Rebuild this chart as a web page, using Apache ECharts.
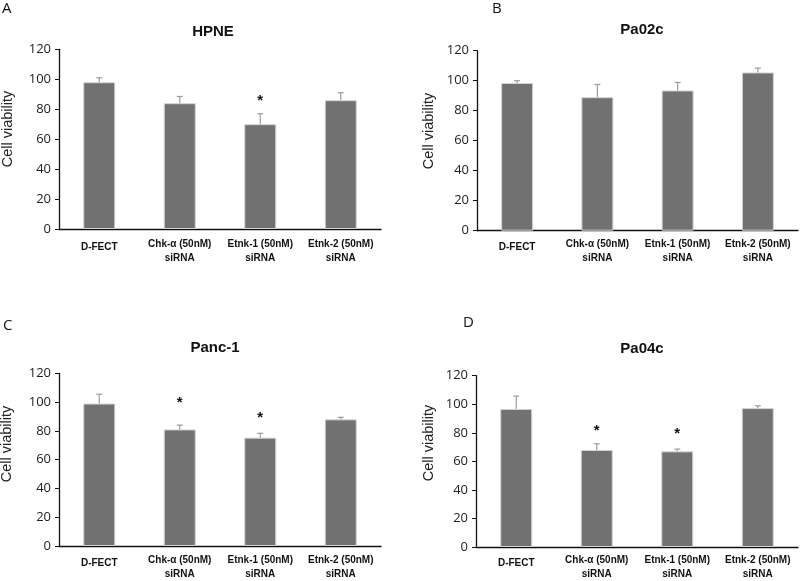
<!DOCTYPE html>
<html>
<head>
<meta charset="utf-8">
<script src="https://cdn.jsdelivr.net/npm/echarts@6/dist/echarts.min.js"></script>
<style>html,body{margin:0;padding:0;background:#fff;}#c{width:800px;height:581px;}</style>
</head>
<body>
<div id="c"></div>
<script>
var categories = ['D-FECT', 'Chk-α (50nM)\nsiRNA', 'Etnk-1 (50nM)\nsiRNA', 'Etnk-2 (50nM)\nsiRNA'];
var yTicks = [0, 20, 40, 60, 80, 100, 120];
var panelTitles = ['HPNE', 'Pa02c', 'Panc-1', 'Pa04c'];
var panelLetters = ['A', 'B', 'C', 'D'];

var hpneMean = [98, 84, 70, 86];
var hpneErr = [3, 4.5, 7, 5];
var hpneStar = [null, null, 88, null];

var pa02cMean = [98.5, 89, 93.5, 105.5];
var pa02cErr = [1.5, 8.5, 5.3, 2.9];
var pa02cStar = [null, null, null, null];

var panc1Mean = [99, 81, 75.3, 88];
var panc1Err = [6.5, 3, 3, 1.4];
var panc1Star = [null, 102, 92, null];

var pa04cMean = [96.7, 68, 67, 97.3];
var pa04cErr = [9, 4.3, 1.6, 1.6];
var pa04cStar = [null, 84, 82, null];

var means = [hpneMean, pa02cMean, panc1Mean, pa04cMean];
var errs = [hpneErr, pa02cErr, panc1Err, pa04cErr];
var stars = [hpneStar, pa02cStar, panc1Star, pa04cStar];

var grids = [
  {left: 59, top: 49.3, width: 322, height: 179.7},
  {left: 477, top: 50.7, width: 321, height: 180},
  {left: 59, top: 373.3, width: 322, height: 177},
  {left: 476, top: 375.7, width: 322, height: 176.3}
];
var labelMargins = [8, 7, 7, 6];
var titlePos = [[213, 32], [642, 30], [215, 348], [642, 349]];
var letterPos = [[2, 9], [492, 9], [3, 326], [463, 323]];
var yNamePos = [[8, 129], [429, 131], [7, 444], [429, 443]];

var chart = echarts.init(document.getElementById('c'), null, {renderer: 'canvas'});

var xAxes = [], yAxes = [], series = [], graphics = [];
for (var p = 0; p < 4; p++) {
  xAxes.push({
    type: 'category', gridIndex: p, data: categories,
    axisLine: {lineStyle: {color: '#111', width: 1.3}},
    axisTick: {show: false},
    axisLabel: {
      interval: 0, margin: labelMargins[p], color: '#111',
      fontFamily: 'Liberation Sans', fontWeight: 'bold', fontSize: 10, lineHeight: 14,
      formatter: function (v) { return v === 'D-FECT' ? '{d|' + v + '}' : v; },
      rich: {d: {fontFamily: 'Liberation Sans', fontWeight: 'bold', fontSize: 10, lineHeight: 20, color: '#111'}}
    }
  });
  yAxes.push({
    type: 'value', gridIndex: p, min: yTicks[0], max: yTicks[yTicks.length - 1], interval: 20,
    axisLine: {show: true, lineStyle: {color: '#111', width: 1.3}},
    axisTick: {show: true, length: 4, lineStyle: {color: '#111'}},
    splitLine: {show: false},
    axisLabel: {margin: 8, color: '#222', fontFamily: 'Open Sans', fontSize: 13}
  });
  series.push({
    type: 'bar', xAxisIndex: p, yAxisIndex: p, data: means[p], barWidth: 32,
    itemStyle: {color: '#717171', borderColor: '#d4d4d4', borderWidth: 1},
    z: 2, silent: true
  });
  var ed = [];
  for (var i = 0; i < 4; i++) ed.push([i, means[p][i], errs[p][i]]);
  series.push({
    type: 'custom', xAxisIndex: p, yAxisIndex: p, data: ed, z: 3, silent: true,
    renderItem: function (params, api) {
      var i = api.value(0), m = api.value(1), e = api.value(2);
      var a = api.coord([i, m]), b = api.coord([i, m + e]);
      var st = {stroke: '#9c9c9c', lineWidth: 1.2};
      return {type: 'group', children: [
        {type: 'line', shape: {x1: a[0], y1: a[1], x2: b[0], y2: b[1]}, style: st},
        {type: 'line', shape: {x1: b[0] - 3, y1: b[1], x2: b[0] + 3, y2: b[1]}, style: st}
      ]};
    }
  });
  var sd = [];
  for (var j = 0; j < 4; j++) if (stars[p][j] != null) sd.push([j, stars[p][j]]);
  series.push({
    type: 'custom', xAxisIndex: p, yAxisIndex: p, data: sd, z: 4, silent: true,
    renderItem: function (params, api) {
      var c = api.coord([api.value(0), api.value(1)]);
      return {type: 'text', style: {x: c[0], y: c[1] + 4, text: '*', textAlign: 'center', textVerticalAlign: 'middle',
        fill: '#111', font: 'bold 15px "Liberation Sans"'}};
    }
  });
  graphics.push({type: 'text', style: {x: titlePos[p][0], y: titlePos[p][1], text: panelTitles[p],
    textAlign: 'center', textVerticalAlign: 'middle', fill: '#111', font: 'bold 15px "Liberation Sans"'}});
  graphics.push({type: 'text', style: {x: letterPos[p][0], y: letterPos[p][1], text: panelLetters[p],
    textAlign: 'left', textVerticalAlign: 'middle', fill: '#111', font: '15px "Open Sans"'}});
  graphics.push({type: 'text', x: yNamePos[p][0], y: yNamePos[p][1], rotation: Math.PI / 2,
    style: {x: 0, y: 0, text: 'Cell viability', textAlign: 'center', textVerticalAlign: 'middle',
      fill: '#222', font: '14.5px "Liberation Sans"'}});
}

chart.setOption({
  animation: false,
  backgroundColor: '#fff',
  grid: grids,
  xAxis: xAxes,
  yAxis: yAxes,
  series: series,
  graphic: graphics
});
</script>
</body>
</html>
